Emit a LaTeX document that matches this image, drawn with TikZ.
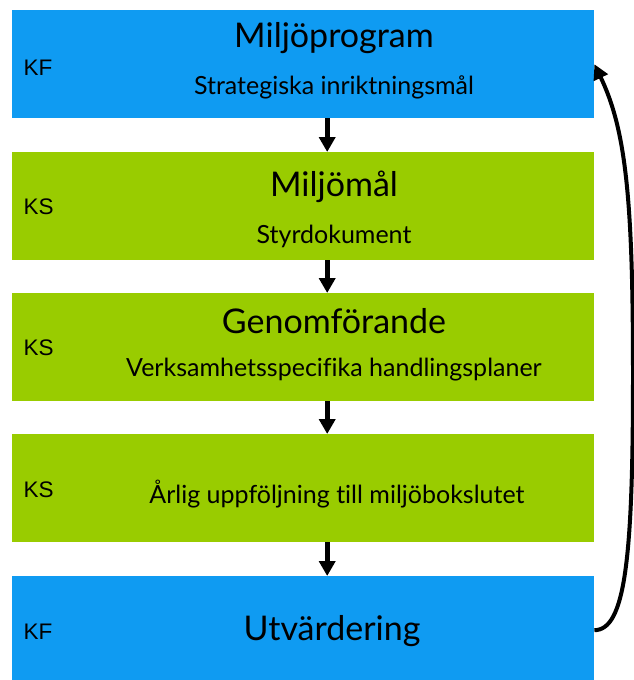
\documentclass[tikz,border=0pt]{standalone}
\usepackage{fontspec}
\setmainfont{Lato}[Ligatures=NoCommon]
\newfontfamily\arial{Liberation Sans}
\usetikzlibrary{arrows.meta}
\definecolor{kfblue}{HTML}{0F9BF2}
\definecolor{ksgreen}{HTML}{99CC00}
\begin{document}
\begin{tikzpicture}[x=1pt, y=-1pt,
    box/.style={minimum width=582pt, minimum height=108pt, inner sep=0pt, anchor=north west},
    kf/.style={box, fill=kfblue},
    ks/.style={box, fill=ksgreen},
    title/.style={font=\fontsize{34}{40}\selectfont},
    sub/.style={font=\fontsize{25}{30}\selectfont},
    org/.style={font=\arial\fontsize{22.5}{27}\selectfont, anchor=west, inner sep=0pt},
    flow/.style={-{Triangle[length=15pt, width=16pt]}, line width=5pt}]
        \useasboundingbox (0,0) rectangle (633,680);
        \node[kf] (prog) at (12,10) {};
        \node[ks] (mal) at (12,152) {};
        \node[ks] (genom) at (12,293) {};
        \node[ks] (upp) at (12,434) {};
        \node[kf, minimum height=104pt] (utv) at (12,576) {};
        \node[title] (progT) at (334,38) {Miljöprogram};
        \node[sub] (progS) at (334,87) {Strategiska inriktningsmål};
        \node[org] (progO) at (23.5,68) {KF};
        \node[title] (malT) at (334,187) {Miljömål};
        \node[sub] (malS) at (334,236) {Styrdokument};
        \node[org] (malO) at (23.5,207) {KS};
        \node[title] (genomT) at (334,321) {Genomförande};
        \node[sub] (genomS) at (334,370) {Verksamhetsspecifika handlingsplaner};
        \node[org] (genomO) at (23.5,348) {KS};
        \node[sub] (uppS) at (337,494) {Årlig uppföljning till miljöbokslutet};
        \node[org] (uppO) at (23.5,490) {KS};
        \node[title] (utvT) at (332,631) {Utvärdering};
        \node[org] (utvO) at (23.5,632) {KF};
        \draw[flow] ([xshift=24pt]prog.south) -- ([xshift=24pt]mal.north);
        \draw[flow] ([xshift=24pt]mal.south) -- ([xshift=24pt]genom.north);
        \draw[flow] ([xshift=24pt]genom.south) -- ([xshift=24pt]upp.north);
        \draw[flow] ([xshift=24pt]upp.south) -- ([xshift=24pt]utv.north);
        \draw[-{Triangle[length=15pt, width=15pt]}, line width=4pt]
            ([yshift=-2pt]utv.east) .. controls (625,630) and (633,560) .. (633,375)
            .. controls (633,200) and (626,130) .. (prog.east);
    \end{tikzpicture}
\end{document}
